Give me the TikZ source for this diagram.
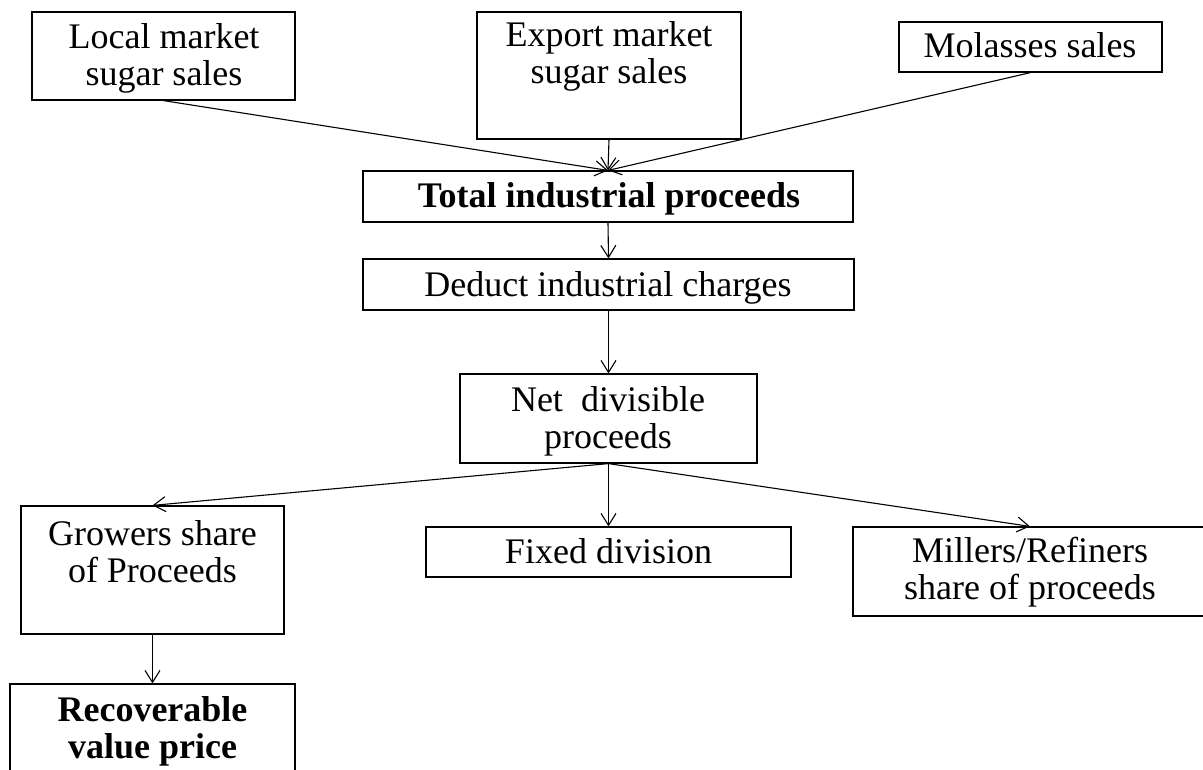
\documentclass[tikz,border=0pt]{standalone}
\usepackage{fontspec}
\setmainfont{Liberation Serif}
\usetikzlibrary{arrows.meta}
\begin{document}
\begin{tikzpicture}[x=1pt,y=-1pt,
  box/.style={draw=black,line width=1.2pt,inner sep=0pt},
  txt/.style={align=center,inner sep=0pt,font=\fontsize{36}{37}\selectfont},
  btxt/.style={txt,font=\fontsize{36}{37}\selectfont\bfseries},
  conn/.style={line width=1.1pt,-{Straight Barb[length=12pt,width=15pt,line width=1.1pt]}}]
\useasboundingbox (0,0) rectangle (1203,769);
% boxes
\node[box,minimum width=263,minimum height=88]  (local)   at (163.5,56)   {};
\node[box,minimum width=264,minimum height=127] (export)  at (609,75.5)   {};
\node[box,minimum width=263,minimum height=50]  (molasses) at (1030.5,47) {};
\node[box,minimum width=490,minimum height=51]  (total)   at (608,196.5)  {};
\node[box,minimum width=491,minimum height=51]  (deduct)  at (608.5,284.5){};
\node[box,minimum width=297,minimum height=89]  (net)     at (608.5,418.5){};
\node[box,minimum width=263,minimum height=128] (growers) at (152.5,570)  {};
\node[box,minimum width=365,minimum height=50]  (fixed)   at (608.5,552)  {};
\node[box,minimum width=354,minimum height=89]  (millers) at (1030,571.5) {};
\node[box,minimum width=285,minimum height=116] (recov)   at (152.5,742)  {};
% texts
\node[txt]  (localt)   at (164,60)   {\strut Local market\\\strut sugar sales};
\node[txt]  (exportt)  at (609,58)   {\strut Export market\\\strut sugar sales};
\node[txt]  (molassest) at (1030,50) {\strut Molasses sales};
\node[btxt] (totalt)   at (609,200)  {\strut Total industrial proceeds};
\node[txt]  (deductt)  at (608,289)  {\strut Deduct industrial charges};
\node[txt]  (nett)     at (608,423)  {\strut Net\ \ divisible\\\strut proceeds};
\node[txt]  (fixedt)   at (608.5,556){\strut Fixed division};
\node[txt]  (millerst) at (1030,574) {\strut Millers/Refiners\\\strut share of proceeds};
\node[txt]  (growerst) at (152.5,557){\strut Growers share\\\strut of Proceeds};
\node[btxt] (recovt)   at (152.5,733){\strut Recoverable\\\strut value price};
% connectors
\draw[conn] (local.south) -- (total.north);
\draw[conn] (export.south) -- (total.north);
\draw[conn] (molasses.south) -- (total.north);
\draw[conn] (total.south) -- (deduct.north);
\draw[conn] (deduct.south) -- (net.north);
\draw[conn] (net.south) -- (growers.north);
\draw[conn] (net.south) -- (fixed.north);
\draw[conn] (net.south) -- (millers.north);
\draw[conn] (growers.south) -- (recov.north);
\end{tikzpicture}
\end{document}
